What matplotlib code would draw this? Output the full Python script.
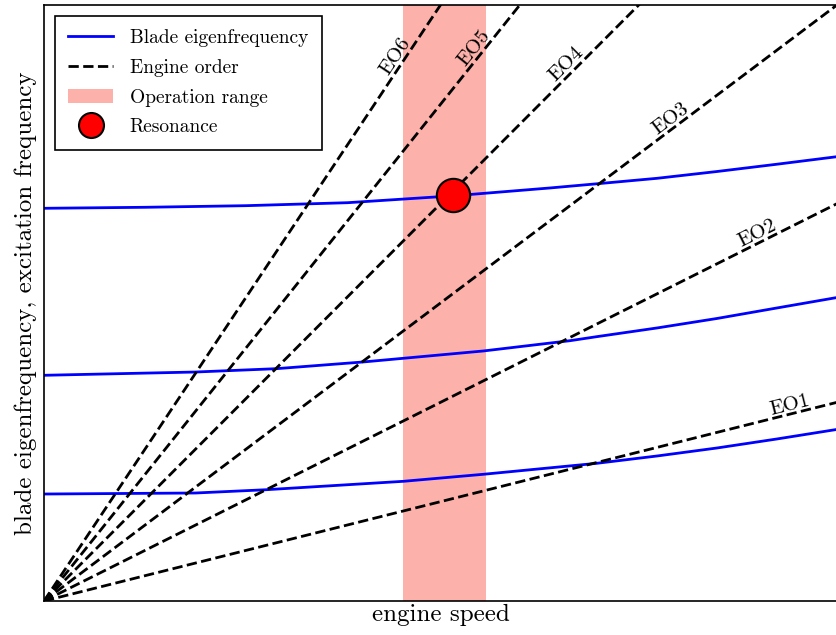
import numpy as np
import matplotlib
matplotlib.use("Agg")
import matplotlib.pyplot as plt
from matplotlib.patches import Patch
from matplotlib.lines import Line2D

plt.rcParams['font.family'] = 'serif'
plt.rcParams['font.serif'] = ['cmr10', 'DejaVu Serif']
plt.rcParams['axes.unicode_minus'] = False

# blade eigenfrequencies of the first three modes over (normalised) engine speed
speed1 = [0.0, 0.191, 0.280, 0.453, 0.554, 0.697, 0.773, 0.8485, 0.924, 1.0]
mode1 = [0.1795, 0.1812, 0.1867, 0.2008, 0.2126, 0.2310, 0.2433, 0.2567,
         0.2718, 0.2879]
speed2 = [0.0, 0.191, 0.293, 0.402, 0.554, 0.663, 0.697, 0.773, 0.8485,
          0.924, 1.0]
mode2 = [0.3787, 0.3842, 0.3898, 0.4010, 0.4195, 0.4367, 0.4435, 0.4581,
         0.4740, 0.4916, 0.5092]
speed3 = [0.0, 0.128, 0.255, 0.383, 0.518, 0.638, 0.697, 0.773, 0.8485,
          0.924, 1.0]
mode3 = [0.6589, 0.6606, 0.6633, 0.6683, 0.6800, 0.6930, 0.7000, 0.7092,
         0.7206, 0.7328, 0.7455]
mode_speeds = [speed1, speed2, speed3]
modes = [mode1, mode2, mode3]

# engine orders: excitation frequency at full speed
orders = [1, 2, 3, 4, 5, 6]
order_freq_end = [1 / 3, 2 / 3, 1.0, 4 / 3, 5 / 3, 2.0]
order_label_x = [0.943, 0.905, 0.797, 0.667, 0.551, 0.453]

op_range = [0.453, 0.557]
resonance = (0.516, 0.681)

fig = plt.figure(figsize=(8.36, 6.35), dpi=100)
ax = fig.add_axes([44 / 836, 34 / 635, 793 / 836, 596 / 635])

ax.axvspan(op_range[0], op_range[1], color='salmon', alpha=0.6, lw=0, zorder=0)

for s, m in zip(mode_speeds, modes):
    ax.plot(s, m, color='b', lw=2, zorder=2)

# screen aspect, used to turn the order labels along their lines
ax_w = 793
ax_h = 596
for k, f_end, lx in zip(orders, order_freq_end, order_label_x):
    ax.plot([0, 1], [0, f_end], 'k--', lw=2, zorder=3)
    ang = np.arctan(f_end * ax_h / ax_w)
    d = 3.0
    ax.annotate('EO%d' % k, xy=(lx, f_end * lx),
                xytext=(-np.sin(ang) * d, np.cos(ang) * d),
                textcoords='offset points', rotation=np.degrees(ang),
                rotation_mode='anchor', ha='center', va='baseline',
                fontsize=15)

ax.plot(resonance[0], resonance[1], 'o', ms=24, mfc='red', mec='black',
        mew=1.5, zorder=5)

ax.set_xlim(0, 1)
ax.set_ylim(0, 1)
ax.set_xticks([])
ax.set_yticks([])
for s in ax.spines.values():
    s.set_linewidth(1.2)

ax.set_xlabel('engine speed', fontsize=18, labelpad=2)
ax.set_ylabel('blade eigenfrequency, excitation frequency', fontsize=18,
              labelpad=5)

handles = [
    Line2D([], [], color='b', lw=2),
    Line2D([], [], color='k', ls='--', lw=2),
    Patch(facecolor='salmon', alpha=0.6, lw=0),
    Line2D([], [], marker='o', ls='none', ms=18, mfc='red', mec='black',
           mew=1.5),
]
labels = ['Blade eigenfrequency', 'Engine order', 'Operation range',
          'Resonance']
leg = ax.legend(handles, labels, loc='upper left', fontsize=14,
                fancybox=False, framealpha=1, edgecolor='black',
                numpoints=1, borderaxespad=0.55, borderpad=0.7,
                labelspacing=0.6, handlelength=2.3, handletextpad=0.85)
leg.get_frame().set_linewidth(1.2)

fig.savefig('out.png', dpi=100)
